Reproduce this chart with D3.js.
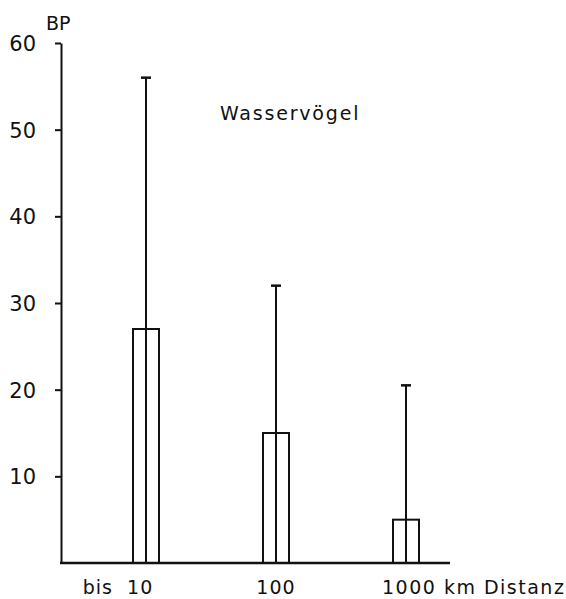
<!DOCTYPE html>
<html lang="de">
<head>
<meta charset="UTF-8">
<title>Wasservögel</title>
<style>
    body { margin: 0; background: #fff; }
    svg { display: block; }
    text { font-family: "DejaVu Sans", sans-serif; fill: #111; }
</style>
</head>
<body>
<svg id="chart" width="566" height="599"></svg>
<script src="https://d3js.org/d3.v7.min.js"></script>
<script>
    // data
    const categories = ["bis 10", "100", "1000"];
    const means = [27, 15, 5];
    const upper = [56, 32, 20.5];
    const yTicks = [10, 20, 30, 40, 50, 60];

    const svg = d3.select("#chart");

    const x = d3.scalePoint().domain(categories).range([146, 406]);
    const y = d3.scaleLinear().domain([0, 60]).range([563, 43]);
    const barW = 26;

    // y axis
    const yAxis = d3.axisLeft(y)
        .tickValues(yTicks)
        .tickSize(6)
        .tickSizeOuter(0)
        .tickPadding(19);
    const ga = svg.append("g")
        .attr("transform", "translate(61,0)")
        .call(yAxis);
    ga.select(".domain").attr("stroke", "#111").attr("stroke-width", 2);
    ga.selectAll(".tick line").attr("stroke", "#111").attr("stroke-width", 2);
    ga.selectAll(".tick text")
        .style("font-size", "21px")
        .style("font-family", "DejaVu Sans, sans-serif")
        .attr("fill", "#111")
        .attr("dy", "0.36em");

    // baseline
    svg.append("line")
        .attr("x1", 60).attr("x2", 450)
        .attr("y1", y(0)).attr("y2", y(0))
        .attr("stroke", "#111").attr("stroke-width", 2.5);

    // bars
    svg.selectAll(".bar")
        .data(categories)
        .enter().append("rect")
        .attr("class", "bar")
        .attr("x", d => x(d) - barW / 2)
        .attr("y", (d, i) => y(means[i]))
        .attr("width", barW)
        .attr("height", (d, i) => y(0) - y(means[i]))
        .attr("fill", "none")
        .attr("stroke", "#111")
        .attr("stroke-width", 2);

    // error bars
    svg.selectAll(".err")
        .data(categories)
        .enter().append("line")
        .attr("class", "err")
        .attr("x1", d => x(d)).attr("x2", d => x(d))
        .attr("y1", y(0))
        .attr("y2", (d, i) => y(upper[i]))
        .attr("stroke", "#111").attr("stroke-width", 2);

    svg.selectAll(".cap")
        .data(categories)
        .enter().append("line")
        .attr("class", "cap")
        .attr("x1", d => x(d) - 5).attr("x2", d => x(d) + 5)
        .attr("y1", (d, i) => y(upper[i]))
        .attr("y2", (d, i) => y(upper[i]))
        .attr("stroke", "#111").attr("stroke-width", 2.5);

    // category labels
    svg.append("text").attr("x", 118).attr("y", 594)
        .attr("text-anchor", "middle").style("font-size", "19px")
        .style("letter-spacing", "1px")
        .attr("xml:space", "preserve")
        .text("bis  10");
    svg.append("text").attr("x", x("100")).attr("y", 594)
        .attr("text-anchor", "middle").style("font-size", "19px")
        .style("letter-spacing", "1px")
        .text("100");
    svg.append("text").attr("x", 382).attr("y", 594)
        .style("font-size", "19px")
        .style("letter-spacing", "1.5px")
        .text("1000 km Distanz");

    // axis title and panel label
    svg.append("text").attr("x", 46).attr("y", 30)
        .style("font-size", "19px")
        .text("BP");
    svg.append("text").attr("x", 220).attr("y", 120)
        .style("font-size", "19px")
        .style("letter-spacing", "1.8px")
        .text("Wasservögel");
</script>
</body>
</html>
